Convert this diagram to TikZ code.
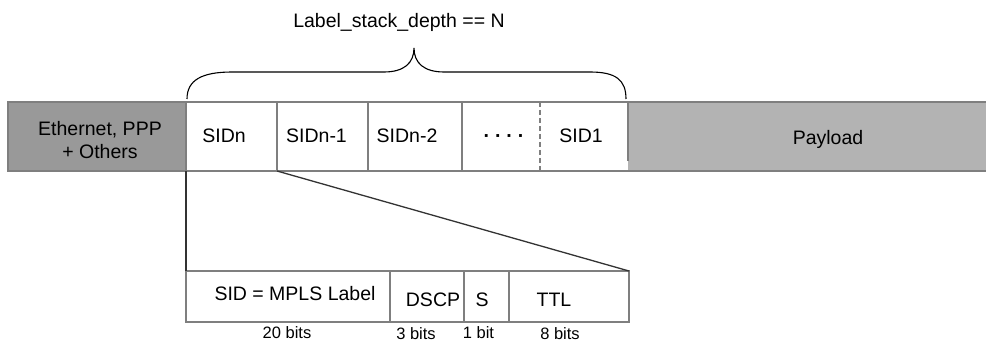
\documentclass[tikz,border=0pt]{standalone}
\usepackage{fontspec}
\setmainfont{Liberation Sans}
\definecolor{ethgray}{HTML}{999999}
\definecolor{paygray}{HTML}{B3B3B3}
\definecolor{rowline}{HTML}{7F7F7F}
\definecolor{darkline}{HTML}{333333}
\begin{document}
\begin{tikzpicture}[x=1pt,y=-1pt,
  cell/.style={draw=rowline, line width=1.2pt, inner sep=0pt, outer sep=0pt,
    anchor=north west, minimum height=69pt},
  bcell/.style={draw=rowline, line width=1.2pt, inner sep=0pt, outer sep=0pt,
    anchor=north west, minimum height=51pt},
  lbl/.style={inner sep=0pt, anchor=base, font=\fontsize{19.5}{23.4}\selectfont},
  bits/.style={inner sep=0pt, anchor=base, font=\fontsize{16.5}{19.8}\selectfont},
  conn/.style={draw=darkline, line width=1.3pt}
]
\useasboundingbox (0,0) rectangle (986,342);

% top row
\node[cell, fill=ethgray, minimum width=178pt] (eth) at (8,102) {};
\node[cell, draw=none, fill=paygray, minimum width=358pt] (payload) at (628,102) {};
\node[cell, fill=white, minimum width=91pt] (sidn) at (186,102) {};
\node[cell, fill=white, minimum width=91pt] (sidn1) at (277,102) {};
\node[cell, fill=white, minimum width=94pt] (sidn2) at (368,102) {};
\node[cell, draw=none, minimum width=78pt] (dotcell) at (462,102) {};
\node[cell, draw=none, minimum width=88pt] (sid1) at (540,102) {};
\draw[rowline, line width=1.2pt] (sidn2.north east) -- (payload.north east);
\draw[rowline, line width=1.2pt] (sidn2.south east) -- (payload.south east);
\draw[rowline, line width=1.2pt, dash pattern=on 5pt off 3pt] (dotcell.north east) -- (dotcell.south east);
\coordinate (tick) at ([yshift=10pt]sid1.south east);
\draw[rowline, line width=1.2pt] (sid1.north east) -- (tick);

% top row texts
\node[lbl, align=center] (ethtxt) at (100,159) {Ethernet, PPP\\+ Others};
\node[lbl] (tsidn) at (224,143) {SIDn};
\node[lbl] (tsidn1) at (316.5,143) {SIDn-1};
\node[lbl] (tsidn2) at (407,143) {SIDn-2};
\node[lbl, font=\fontsize{19.5}{23.4}\selectfont\bfseries] (tdots) at (504,143) {·\kern5pt·\kern5pt·\kern5pt·};
\node[lbl] (tsid1) at (581,143) {SID1};
\node[lbl] (tpay) at (828,144.3) {Payload};

% brace
\draw[black, line width=1.1pt]
  (187,99) .. controls (187,80) and (202,72) .. (232,72) -- (384,72)
  .. controls (404,72) and (414,63) .. (414,48)
  .. controls (414,63) and (424,72) .. (444,72) -- (590,72)
  .. controls (616,72) and (626,80) .. (626,99);
\node[lbl] (title) at (399,28) {Label\_stack\_depth == N};

% bottom row
\node[bcell, fill=white, minimum width=204pt] (mpls) at (186,271) {};
\node[bcell, fill=white, minimum width=74pt] (dscp) at (390,271) {};
\node[bcell, fill=white, minimum width=45pt] (sbit) at (464,271) {};
\node[bcell, fill=white, minimum width=120pt] (ttl) at (509,271) {};

\node[lbl] (tmpls) at (295,300.7) {SID = MPLS Label};
\node[lbl] (tdscp) at (433,306) {DSCP};
\node[lbl] (tsbit) at (482,306) {S};
\node[lbl] (tttl) at (554,306) {TTL};

\node[bits] (b20) at (287,338.5) {20 bits};
\node[bits] (b3) at (416,339.5) {3 bits};
\node[bits] (b1) at (478.5,338.5) {1 bit};
\node[bits] (b8) at (560,339.5) {8 bits};

% expansion connectors
\draw[conn] (sidn.south west) -- (mpls.north west);
\draw[conn] (sidn.south east) -- (ttl.north east);
\end{tikzpicture}
\end{document}
